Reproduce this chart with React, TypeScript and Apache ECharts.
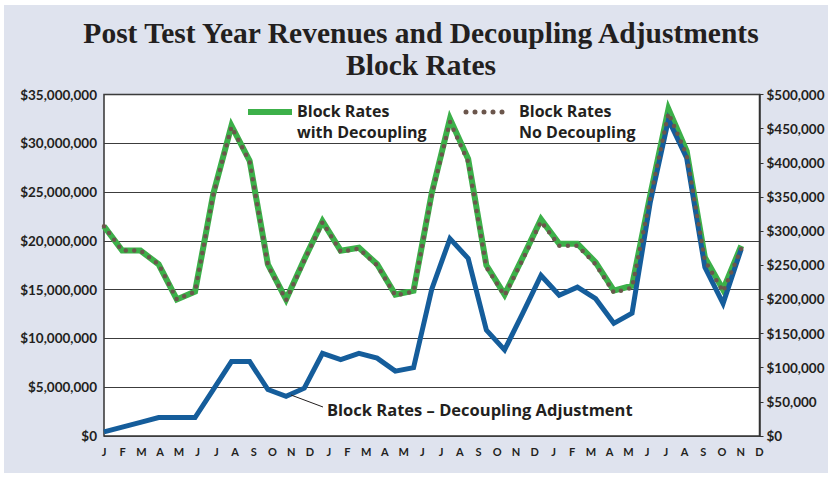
import React, { useEffect, useRef } from "react";
import * as echarts from "echarts";

// Month tick labels (three years)
const tickLabels = [
  "J", "F", "M", "A", "M", "J", "J", "A", "S", "O", "N", "D",
  "J", "F", "M", "A", "M", "J", "J", "A", "S", "O", "N", "D",
  "J", "F", "M", "A", "M", "J", "J", "A", "S", "O", "N", "D",
];

// Block Rates with Decoupling (left axis, $)
const withDecoupling = [
  21500000, 19000000, 19000000, 17600000, 14000000, 14800000, 24800000, 31800000, 28200000, 17600000, 14000000, 18100000,
  22000000, 19000000, 19300000, 17600000, 14500000, 14900000, 24900000, 32500000, 28400000, 17500000, 14500000, 18300000,
  22200000, 19700000, 19700000, 17800000, 14900000, 15400000, 24700000, 33500000, 29200000, 18300000, 15000000, 19500000,
];

// Block Rates No Decoupling (left axis, $)
const noDecoupling = [
  21500000, 19000000, 19000000, 17600000, 14000000, 14800000, 24700000, 31700000, 28100000, 17500000, 13900000, 18000000,
  21900000, 18900000, 19200000, 17500000, 14400000, 14800000, 24700000, 32200000, 28100000, 17300000, 14400000, 18100000,
  22000000, 19500000, 19500000, 17600000, 14700000, 15200000, 24400000, 33100000, 28800000, 18000000, 14800000, 19200000,
];

// Block Rates – Decoupling Adjustment (right axis, $)
const adjustment = [
  6000, 13000, 20000, 27000, 27000, 27000, 68000, 109000, 109000, 68000, 58000, 70000,
  121000, 112000, 121000, 114000, 95000, 100000, 215000, 289000, 260000, 155000, 126000, 180000,
  235000, 206000, 218000, 201000, 165000, 180000, 342000, 463000, 407000, 247000, 194000, 274000,
];

const seriesNames = [
  "Block Rates with Decoupling",
  "Block Rates No Decoupling",
  "Block Rates – Decoupling Adjustment",
];

// legend label lines
const legendWith = ["Block Rates", "with Decoupling"];
const legendNo = ["Block Rates", "No Decoupling"];

const GREEN = "#3cb049";
const BLUE = "#155d9b";
const DOTS = "#6b564c";
const TEXT = "#231f20";
const SANS = "Lato, 'Open Sans', sans-serif";
const LEGEND_FONT = "bold 16px 'Open Sans', sans-serif";
const NOTE_FONT = "bold 16.5px 'Open Sans', sans-serif";

const money = (v: number) => "$" + Math.round(v).toLocaleString("en-US");

const labelText = (t: string, x: number, y: number, font: string) => ({
  type: "text",
  z: 10,
  x,
  y,
  style: { text: t, font, fill: TEXT, verticalAlign: "middle" },
});

export default function App() {
  const ref = useRef<HTMLDivElement>(null);

  useEffect(() => {
    document.body.style.margin = "0";
    if (!ref.current) return;
    const chart = echarts.init(ref.current, undefined, { renderer: "svg" });

    // data categories: one per month plus one trailing empty slot
    const dataCats = tickLabels.map((m, i) => m + (Math.floor(i / 12) + 1)).concat([""]);

    const option: any = {
      animation: false,
      backgroundColor: "#ffffff",
      title: {
        text: "Post Test Year Revenues and Decoupling Adjustments\nBlock Rates",
        left: 416,
        textAlign: "center",
        top: 12,
        textStyle: {
          fontFamily: "'Liberation Serif', serif",
          fontWeight: "bold",
          fontSize: 29.5,
          lineHeight: 32,
          color: TEXT,
        },
      },
      graphic: [
        {
          type: "rect",
          z: -10,
          silent: true,
          shape: { x: 4, y: 5, width: 824, height: 468 },
          style: { fill: "#dfe3ee" },
        },
        // legend: with decoupling
        {
          type: "line",
          z: 10,
          shape: { x1: 248, y1: 112, x2: 292, y2: 112 },
          style: { stroke: GREEN, lineWidth: 6 },
        },
        labelText(legendWith[0], 297, 110.5, LEGEND_FONT),
        labelText(legendWith[1], 297, 132, LEGEND_FONT),
        // legend: no decoupling
        {
          type: "line",
          z: 10,
          shape: { x1: 466, y1: 112, x2: 505, y2: 112 },
          style: { stroke: DOTS, lineWidth: 5, lineDash: [0, 9], lineCap: "round" },
        },
        labelText(legendNo[0], 519, 110.5, LEGEND_FONT),
        labelText(legendNo[1], 519, 132, LEGEND_FONT),
        // annotation for adjustment
        {
          type: "line",
          z: 10,
          shape: { x1: 291, y1: 395, x2: 323, y2: 407 },
          style: { stroke: TEXT, lineWidth: 1 },
        },
        labelText(seriesNames[2], 327, 409, NOTE_FONT),
      ],
      grid: {
        show: true,
        left: 104,
        right: 72.5,
        top: 94.5,
        bottom: 41,
        backgroundColor: "#ffffff",
        borderColor: "#333333",
        borderWidth: 1.5,
        containLabel: false,
      },
      xAxis: [
        {
          type: "category",
          data: tickLabels,
          boundaryGap: false,
          axisLine: { show: false },
          axisTick: { show: false },
          splitLine: { show: false },
          axisLabel: {
            interval: 0,
            margin: 10,
            fontFamily: SANS,
            fontWeight: "bold",
            fontSize: 11,
            color: TEXT,
          },
        },
        {
          type: "category",
          data: dataCats,
          boundaryGap: false,
          show: false,
          position: "bottom",
        },
      ],
      yAxis: [
        {
          type: "value",
          min: 0,
          max: 35000000,
          interval: 5000000,
          position: "left",
          axisLine: { show: false },
          axisTick: { show: false },
          splitLine: { show: true, lineStyle: { color: "#3c3c3c", width: 1 } },
          axisLabel: {
            margin: 7,
            formatter: money,
            fontFamily: SANS,
            fontWeight: "bold",
            fontSize: 13.5,
            color: TEXT,
          },
        },
        {
          type: "value",
          min: 0,
          max: 500000,
          interval: 50000,
          position: "right",
          axisLine: { show: true, lineStyle: { color: "#333333", width: 1.5 } },
          axisTick: { show: true, inside: false, length: 4, lineStyle: { color: "#333333" } },
          splitLine: { show: false },
          axisLabel: {
            margin: 7,
            formatter: money,
            fontFamily: SANS,
            fontWeight: "bold",
            fontSize: 13.5,
            color: TEXT,
          },
        },
      ],
      series: [
        {
          name: seriesNames[0],
          type: "line",
          xAxisIndex: 1,
          yAxisIndex: 0,
          data: withDecoupling,
          showSymbol: false,
          z: 2,
          lineStyle: { color: GREEN, width: 6, join: "miter" },
        },
        {
          name: seriesNames[2],
          type: "line",
          xAxisIndex: 1,
          yAxisIndex: 1,
          data: adjustment,
          showSymbol: false,
          z: 3,
          lineStyle: { color: BLUE, width: 5, join: "miter" },
        },
        {
          name: seriesNames[1],
          type: "line",
          xAxisIndex: 1,
          yAxisIndex: 0,
          data: noDecoupling,
          showSymbol: false,
          z: 4,
          lineStyle: { color: DOTS, width: 4.5, type: [0, 8.5], cap: "round" },
        },
      ],
    };

    chart.setOption(option);
    return () => chart.dispose();
  }, []);

  return <div ref={ref} style={{ width: 832, height: 477 }} />;
}
